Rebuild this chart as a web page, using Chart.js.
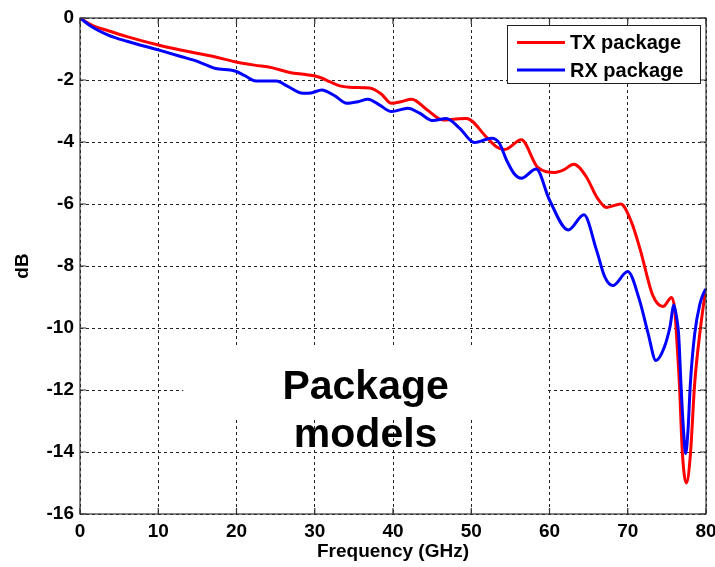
<!DOCTYPE html>
<html>
<head>
<meta charset="utf-8">
<script src="https://cdn.jsdelivr.net/npm/chart.js@4.4.1/dist/chart.umd.min.js"></script>
<style>
    html, body { margin: 0; padding: 0; background: #fff; }
</style>
</head>
<body>
<canvas id="lossChart" width="715" height="567"></canvas>
<script>
// Insertion loss of the two package models (GHz, dB)
const txFreq = [0, 1.5, 3.6, 6, 10, 13, 17.2, 19.8, 22.3, 24.5, 26.8, 29, 30.6, 31.9, 33.2, 35, 37, 38.5, 39.8, 41, 42.4, 44.3, 46.4, 48, 49.4, 51.9, 53.2, 54.3, 56.4, 58.5, 60.7, 61.8, 63.1, 64.7, 66, 67.3, 69.1, 70.5, 71.6, 73.2, 74.5, 75.6, 76.0, 76.3, 76.6, 77.0, 77.5, 78.0, 78.55, 79.2, 79.9, 80];
const txLoss = [0, -0.23, -0.41, -0.60, -0.87, -1.04, -1.25, -1.41, -1.52, -1.60, -1.76, -1.83, -1.91, -2.05, -2.19, -2.24, -2.26, -2.45, -2.75, -2.70, -2.62, -2.95, -3.29, -3.26, -3.24, -3.83, -4.15, -4.24, -3.93, -4.82, -4.98, -4.90, -4.72, -5.12, -5.76, -6.11, -6.0, -6.6, -7.48, -8.95, -9.31, -9.02, -9.4, -10.5, -11.8, -14.1, -15.0, -14.1, -11.8, -10.2, -8.9, -8.8];

const rxFreq = [0, 1.5, 3.6, 6, 10, 13, 15, 17.2, 19.8, 21, 22.5, 25.1, 26.5, 28.5, 29.5, 30.9, 32.5, 34.1, 35.5, 36.8, 38.3, 39.8, 41.9, 43.4, 45.1, 46.8, 48.5, 50.4, 52.6, 53.6, 54.5, 55.6, 56.4, 58.3, 60, 62.4, 64.4, 66, 67.05, 68.1, 70, 71.5, 72.6, 73.6, 74.7, 75.4, 75.9, 76.2, 76.5, 76.8, 77.1, 77.4, 77.7, 78.0, 78.55, 79.2, 79.9, 80];
const rxLoss = [0, -0.28, -0.55, -0.75, -1.03, -1.25, -1.40, -1.62, -1.71, -1.85, -2.03, -2.03, -2.2, -2.43, -2.42, -2.32, -2.5, -2.75, -2.70, -2.62, -2.81, -3.02, -2.91, -3.07, -3.31, -3.24, -3.55, -4.02, -3.88, -4.04, -4.58, -5.06, -5.17, -4.87, -5.87, -6.84, -6.35, -7.48, -8.34, -8.63, -8.18, -9.1, -10.17, -11.05, -10.6, -9.96, -9.26, -9.6, -10.2, -11.8, -13.2, -14.05, -13.3, -11.8, -10.2, -9.25, -8.77, -8.75];

const seriesNames = ['TX package', 'RX package'];
const seriesColors = ['#ff0000', '#0000ff'];
const noteLines = ['Package', 'models'];

const FONT = '"Liberation Sans", Arial, Helvetica, sans-serif';

const toPoints = (xs, ys) => xs.map((x, i) => ({ x: x, y: ys[i] }));

// white label box with the text, drawn over the grid
const notePlugin = {
    id: 'note',
    beforeDatasetsDraw(chart) {
        const { ctx, scales: { x, y } } = chart;
        const left = x.getPixelForValue(13.2);
        const right = x.getPixelForValue(59.8);
        const top = y.getPixelForValue(-10.58);
        const bottom = y.getPixelForValue(-12.9);
        ctx.save();
        ctx.fillStyle = '#fff';
        ctx.fillRect(left, top, right - left, bottom - top);
        ctx.fillStyle = '#000';
        ctx.font = 'bold 41px ' + FONT;
        ctx.textAlign = 'center';
        ctx.textBaseline = 'alphabetic';
        const cx = (left + right) / 2;
        ctx.fillText(noteLines[0], cx, y.getPixelForValue(-12.29));
        ctx.fillText(noteLines[1], cx, y.getPixelForValue(-13.84));
        ctx.restore();
    }
};

// axes box, inward ticks and the legend
const framePlugin = {
    id: 'frame',
    afterDraw(chart) {
        const { ctx, chartArea: a, scales: { x, y } } = chart;
        ctx.save();
        ctx.strokeStyle = '#333';
        ctx.lineWidth = 1.2;
        ctx.strokeRect(a.left, a.top, a.right - a.left, a.bottom - a.top);

        ctx.beginPath();
        x.ticks.forEach(t => {
            const px = x.getPixelForValue(t.value);
            ctx.moveTo(px, a.bottom); ctx.lineTo(px, a.bottom - 6);
            ctx.moveTo(px, a.top); ctx.lineTo(px, a.top + 6);
        });
        y.ticks.forEach(t => {
            const py = y.getPixelForValue(t.value);
            ctx.moveTo(a.left, py); ctx.lineTo(a.left + 6, py);
            ctx.moveTo(a.right, py); ctx.lineTo(a.right - 6, py);
        });
        ctx.stroke();

        // legend
        const bx = a.right - 199, by = a.top + 7, bw = 193, bh = 58;
        ctx.fillStyle = '#fff';
        ctx.fillRect(bx, by, bw, bh);
        ctx.strokeStyle = '#222';
        ctx.lineWidth = 1;
        ctx.strokeRect(bx + 0.5, by + 0.5, bw, bh);
        ctx.font = 'bold 20px ' + FONT;
        ctx.textAlign = 'left';
        ctx.textBaseline = 'middle';
        seriesNames.forEach((name, i) => {
            const ly = by + 17.5 + i * 27.5;
            ctx.strokeStyle = seriesColors[i];
            ctx.lineWidth = 3;
            ctx.beginPath();
            ctx.moveTo(bx + 10, ly);
            ctx.lineTo(bx + 58, ly);
            ctx.stroke();
            ctx.fillStyle = '#000';
            ctx.fillText(name, bx + 63, ly + 1);
        });
        ctx.restore();
    }
};

document.addEventListener('DOMContentLoaded', function () {
    const lossCtx = document.getElementById('lossChart');

    new Chart(lossCtx, {
        type: 'line',
        data: {
            datasets: [{
                label: seriesNames[0],
                data: toPoints(txFreq, txLoss),
                borderColor: seriesColors[0],
                borderWidth: 3,
                pointRadius: 0,
                cubicInterpolationMode: 'monotone',
                fill: false,
                order: 1
            }, {
                label: seriesNames[1],
                data: toPoints(rxFreq, rxLoss),
                borderColor: seriesColors[1],
                borderWidth: 3,
                pointRadius: 0,
                cubicInterpolationMode: 'monotone',
                fill: false,
                order: 0
            }]
        },
        options: {
            responsive: false,
            animation: false,
            layout: {
                padding: { top: 18, right: 9, left: 0, bottom: 0 }
            },
            scales: {
                x: {
                    type: 'linear',
                    min: 0,
                    max: 80,
                    afterFit: s => { s.height = 53; s.paddingLeft = 0; s.paddingRight = 0; },
                    ticks: {
                        stepSize: 10,
                        color: '#000',
                        padding: 6,
                        maxRotation: 0,
                        font: { family: FONT, size: 19, weight: 'bold' }
                    },
                    grid: { color: '#222', lineWidth: 1, drawTicks: false },
                    border: { display: false, dash: [3, 3] },
                    title: {
                        display: true,
                        text: 'Frequency (GHz)',
                        color: '#000',
                        padding: { top: 0, bottom: 4 },
                        font: { family: FONT, size: 19, weight: 'bold' }
                    }
                },
                y: {
                    min: -16,
                    max: 0,
                    afterFit: s => { s.width = 80; },
                    ticks: {
                        stepSize: 2,
                        color: '#000',
                        padding: 6,
                        font: { family: FONT, size: 19, weight: 'bold' }
                    },
                    grid: { color: '#222', lineWidth: 1, drawTicks: false },
                    border: { display: false, dash: [3, 3] },
                    title: {
                        display: true,
                        text: 'dB',
                        color: '#000',
                        padding: { top: 11, bottom: 0 },
                        font: { family: FONT, size: 19, weight: 'bold' }
                    }
                }
            },
            plugins: {
                legend: { display: false },
                tooltip: { enabled: false }
            }
        },
        plugins: [notePlugin, framePlugin]
    });
});
</script>
</body>
</html>
